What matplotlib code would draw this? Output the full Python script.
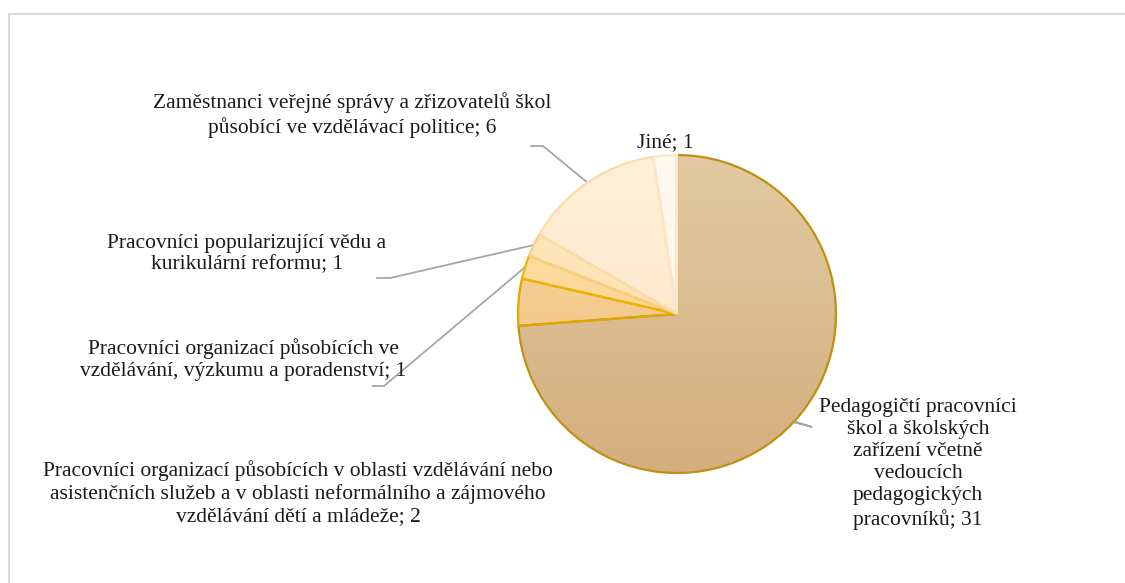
import numpy as np
import matplotlib.pyplot as plt
from matplotlib.colors import LinearSegmentedColormap
from matplotlib.patches import Rectangle

plt.rcParams['font.family'] = ['Liberation Serif', 'DejaVu Serif']

# data
labels = ['Pedagogičtí pracovníci\nškol a školských\nzařízení včetně\nvedoucích\npedagogických\npracovníků',
          'Pracovníci organizací působících v oblasti vzdělávání nebo\nasistenčních služeb a v oblasti neformálního a zájmového\nvzdělávání dětí a mládeže',
          'Pracovníci organizací působících ve\nvzdělávání, výzkumu a poradenství',
          'Pracovníci popularizující vědu a\nkurikulární reformu',
          'Zaměstnanci veřejné správy a zřizovatelů škol\npůsobící ve vzdělávací politice',
          'Jiné']
values = [31, 2, 1, 1, 6, 1]

# styles: (top colour, bottom colour, edge colour)
styles = [('#E2C9A2', '#D4AF7E', '#BF9112'),
          ('#F7D6A2', '#EFC07A', '#E2A600'),
          ('#FEDFA6', '#FBD28A', '#EFB300'),
          ('#FFE8C0', '#FDDCA6', '#F8CF8A'),
          ('#FFF0DA', '#FEE3BE', '#FBDBA8'),
          ('#FFF8F0', '#FFEFDD', '#FCE5C8')]

W, H = 1125, 583
fig = plt.figure(figsize=(W / 100, H / 100), dpi=100)
ax = fig.add_axes([0, 0, 1, 1])

def Y(y):
    return H - y

cx, cy, R = 677, Y(314), 159

wedges, _ = ax.pie(values, startangle=90, counterclock=False, radius=R,
                   center=(cx, cy), frame=True,
                   wedgeprops=dict(linewidth=1.6))

grad = np.linspace(0, 1, 256).reshape(-1, 1)
for w, (top, bot, edge) in zip(wedges, styles):
    w.set_facecolor('none')
    w.set_edgecolor(edge)
    w.set_zorder(3)
    cmap = LinearSegmentedColormap.from_list('g', [bot, top])
    im = ax.imshow(grad, cmap=cmap, extent=(cx - R, cx + R, cy - R, cy + R),
                   origin='lower', aspect='auto', zorder=2)
    im.set_clip_path(w)
ax.set_xlim(0, W)
ax.set_ylim(0, H)
ax.set_aspect('equal')
ax.axis('off')

# labels (text = label; value)
fs = 15.5
pos = [(918, 464), (298, 493), (243, 360), (247, 254), (352, 115), (665, 143)]
for lab, v, (x, y) in zip(labels, values, pos):
    ax.text(x, Y(y), f'{lab}; {v}', ha='center', va='center',
            multialignment='center', fontsize=fs, linespacing=1.21, color='#1a1a1a')

# leader lines: (slice index, elbow, end)
leaders = [(0, (812, 427), (796, 422)),
           (2, (384, 386), (373, 386)),
           (3, (390, 278), (377, 278)),
           (4, (543, 146), (531, 146))]
for i, elbow, end in leaders:
    w = wedges[i]
    a = np.deg2rad((w.theta1 + w.theta2) / 2)
    px, py = cx + R * np.cos(a), cy + R * np.sin(a)
    ax.plot([px, elbow[0], end[0]], [py, Y(elbow[1]), Y(end[1])],
            color='#A6A6A6', lw=1.3, zorder=1, solid_joinstyle='miter')

# chart area frame
fig.patches.append(Rectangle((8.5 / W, -0.1), 1.2, (H - 13.5) / H + 0.1,
                             transform=fig.transFigure, fill=False,
                             edgecolor='#D9D9D9', lw=1.5))

fig.savefig('out.png', dpi=100, facecolor='white')
